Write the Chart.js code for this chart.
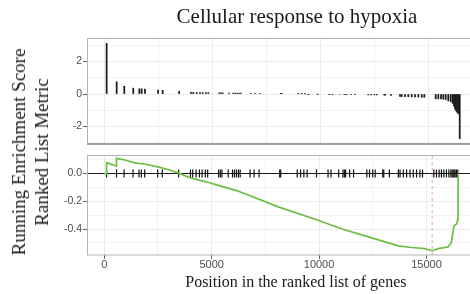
<!DOCTYPE html>
<html>
<head>
<meta charset="utf-8">
<script src="https://cdn.jsdelivr.net/npm/chart.js@4.4.0/dist/chart.umd.min.js"></script>
<style>
  html, body { margin: 0; padding: 0; background: #fff; overflow: hidden; }
  #wrap { position: relative; width: 470px; height: 294px; overflow: hidden; }
  #wrap canvas { position: absolute; left: 0; top: 0; }
  #ytitle {
    position: absolute; left: 30px; top: 152px;
    transform: translate(-50%, -50%) rotate(-90deg);
    font: 19px 'Liberation Serif', serif; line-height: 23px;
    text-align: center; white-space: nowrap; color: #1a1a1a;
  }
</style>
</head>
<body>
<div id="wrap">
  <canvas id="rankChart" width="510" height="294"></canvas>
  <canvas id="esChart" width="510" height="294"></canvas>
  <div id="ytitle">Running Enrichment Score<br>Ranked List Metric</div>
</div>
<script>
// ============================================
// DATA
// ============================================

const chartTitle = 'Cellular response to hypoxia';
const xTitle     = 'Position in the ranked list of genes';

// positions of the gene set members in the ranked list
const hitPositions = [
  110, 574, 926, 1343, 1622, 1730, 1884, 2490, 2703, 3465,
  4014, 4120, 4278, 4431, 4556, 4708, 4815, 5324, 5403, 5481,
  5773, 5972, 6065, 6157, 6250, 6329, 6792, 6977, 7208, 8167,
  8213, 8982, 9139, 9292, 9445, 9880, 10417, 10556, 10912, 11112,
  11177, 11237, 11422, 11607, 12223, 12348, 12500, 12611, 12963, 13010,
  13273, 13690, 13769, 13922, 14075, 14232, 14385, 14537, 14695, 14815,
  15343, 15464, 15589, 15695, 15806, 15926, 16038, 16130, 16190, 16237,
  16283, 16330, 16390, 16455
];
// ranked list metric of each member
const hitMetrics = [
  3.12, 0.75, 0.48, 0.36, 0.32, 0.32, 0.31, 0.24, 0.23, 0.16,
  0.10, 0.10, 0.09, 0.09, 0.09, 0.08, 0.08, 0.07, 0.07, 0.07,
  0.06, 0.06, 0.05, 0.05, 0.05, 0.05, 0.04, 0.04, 0.04, 0.02,
  0.02, 0.01, 0.01, 0.01, -0.01, -0.01, -0.02, -0.02, -0.03, -0.03,
  -0.03, -0.03, -0.04, -0.04, -0.05, -0.05, -0.05, -0.06, -0.07, -0.07,
  -0.08, -0.15, -0.16, -0.16, -0.17, -0.18, -0.18, -0.19, -0.20, -0.20,
  -0.30, -0.30, -0.31, -0.32, -0.34, -0.42, -0.48, -0.58, -0.75, -0.92,
  -1.02, -1.12, -1.22, -2.75
];

// running enrichment score
const esPositions = [
  0, 110, 110, 574, 574, 805, 963, 1343, 1575, 1884,
  2500, 2966, 3427, 3968, 4740, 5510, 6200, 8133, 9985, 11065,
  12145, 12917, 13689, 14306, 14923, 15264, 15541, 16004, 16159, 16210,
  16283, 16400, 16455, 16468, 16468
];
const esScores = [
  0, -0.002, 0.078, 0.053, 0.109, 0.102, 0.097, 0.080, 0.073, 0.068,
  0.048, 0.029, 0.005, -0.030, -0.060, -0.095, -0.125, -0.242, -0.339, -0.400,
  -0.449, -0.485, -0.521, -0.533, -0.541, -0.556, -0.541, -0.529, -0.497, -0.440,
  -0.376, -0.364, -0.330, -0.330, 0
];
const peakPosition = 15264;

// labelled ticks and grid breaks
const posTicks   = [0, 5000, 10000, 15000];
const posGrid    = [0, 2500, 5000, 7500, 10000, 12500, 15000, 17500];
const rankTicks  = [-2, 0, 2];
const rankGrid   = [-3, -2, -1, 0, 1, 2, 3];
const esTicks    = [-0.4, -0.2, 0];
const esGrid     = [-0.5, -0.4, -0.3, -0.2, -0.1, 0, 0.1];

// axis limits
const xMin = -800, xMax = 18644;
const rankMin = -3.08, rankMax = 3.45;
const esMin = -0.587, esMax = 0.133;

// ============================================
// STYLE HELPERS
// ============================================

const GRID   = '#ebebeb';
const TICKC  = '#666';
const LABELC = '#4d4d4d';
const sans   = "'Liberation Sans', Arial, sans-serif";
const serif  = "'Liberation Serif', serif";

const isMajor = (list, v) => list.some(t => Math.abs(t - v) < 1e-9);
const tickVal = c => (c && c.tick) ? c.tick.value : NaN;
const useTicks = list => sc => { sc.ticks = list.map(v => ({ value: v })); };

const panelFrame = {
  id: 'panelFrame',
  afterDraw(chart, args, opts) {
    const { ctx, chartArea: a } = chart;
    ctx.save();
    ctx.strokeStyle = '#b3b3b3';
    ctx.lineWidth = 1;
    ctx.beginPath();
    ctx.moveTo(Math.round(a.left) + 0.5, a.bottom);
    ctx.lineTo(Math.round(a.left) + 0.5, Math.round(a.top) + 0.5);
    ctx.lineTo(a.right, Math.round(a.top) + 0.5);
    ctx.stroke();
    ctx.strokeStyle = opts.bottomColor;
    ctx.lineWidth = opts.bottomWidth;
    ctx.beginPath();
    ctx.moveTo(a.left, a.bottom);
    ctx.lineTo(a.right, a.bottom);
    ctx.stroke();
    ctx.restore();
  }
};

function xScale(showLabels) {
  const s = {
    type: 'linear', min: xMin, max: xMax, offset: false,
    border: { display: false },
    afterBuildTicks: useTicks(posGrid),
    grid: {
      offset: false, color: GRID,
      lineWidth: c => isMajor(posTicks, tickVal(c)) ? 1 : 0.6,
      drawTicks: showLabels, tickLength: 4,
      tickColor: c => isMajor(posTicks, tickVal(c)) ? TICKC : 'rgba(0,0,0,0)'
    },
    ticks: {
      display: showLabels, autoSkip: false, maxRotation: 0, minRotation: 0, padding: -1,
      color: LABELC, font: { family: sans, size: 11 },
      callback: v => isMajor(posTicks, v) ? String(v) : ''
    },
    title: {
      display: showLabels, text: xTitle, color: '#1a1a1a',
      font: { family: serif, size: 16 },
      padding: { top: 3, bottom: 1.6 }
    }
  };
  if (!showLabels) s.afterFit = sc => { sc.height = 0; };
  return s;
}

function yScale(min, max, grid, majors, fmt, zeroLine) {
  const isZero = c => zeroLine && Math.abs(tickVal(c)) < 1e-9;
  return {
    type: 'linear', min, max,
    border: { display: false },
    afterBuildTicks: useTicks(grid),
    grid: {
      color: c => isZero(c) ? '#1a1a1a' : GRID,
      lineWidth: c => (isMajor(majors, tickVal(c)) || isZero(c)) ? 1 : 0.6,
      tickLength: 4,
      tickColor: c => isMajor(majors, tickVal(c)) ? TICKC : 'rgba(0,0,0,0)'
    },
    ticks: {
      autoSkip: false, padding: 1,
      color: LABELC, font: { family: sans, size: 10.5 },
      callback: v => isMajor(majors, v) ? fmt(v) : ''
    },
    afterFit: sc => { sc.width = 87; }
  };
}

// ============================================
// TOP PANEL - RANKED LIST METRIC
// ============================================

new Chart(document.getElementById('rankChart'), {
  type: 'bar',
  data: {
    datasets: [{
      data: hitPositions.map((p, i) => ({ x: p, y: hitMetrics[i] })),
      backgroundColor: '#1a1a1a',
      barThickness: 1.1,
      grouped: false
    }]
  },
  options: {
    responsive: false, animation: false,
    layout: { padding: { top: 0, left: 0, right: 3, bottom: 150 } },
    plugins: {
      legend: { display: false },
      tooltip: { enabled: false },
      title: {
        display: true, text: chartTitle, fullSize: false,
        color: '#1a1a1a',
        font: { family: serif, size: 21, weight: 'normal' },
        padding: { top: 5, bottom: 7.8 }
      },
      panelFrame: { bottomColor: '#a0a0a0', bottomWidth: 2 }
    },
    scales: {
      x: xScale(false),
      y: yScale(rankMin, rankMax, rankGrid, rankTicks, v => String(v), false)
    }
  },
  plugins: [panelFrame]
});

// ============================================
// BOTTOM PANEL - RUNNING ENRICHMENT SCORE
// ============================================

new Chart(document.getElementById('esChart'), {
  type: 'scatter',
  data: {
    datasets: [
      {
        type: 'line', label: 'ES',
        data: esPositions.map((p, i) => ({ x: p, y: esScores[i] })),
        borderColor: '#6cbf45', borderWidth: 1.7,
        pointRadius: 0, tension: 0
      },
      {
        type: 'scatter', label: 'hits',
        data: hitPositions.map(p => ({ x: p, y: 0 })),
        pointStyle: 'line', rotation: 90, radius: 4,
        borderColor: '#111', borderWidth: 1.2
      },
      {
        type: 'line', label: 'peak',
        data: [{ x: peakPosition, y: esMin }, { x: peakPosition, y: esMax }],
        borderColor: '#f2a0a0', borderWidth: 1, borderDash: [3, 3],
        pointRadius: 0
      }
    ]
  },
  options: {
    responsive: false, animation: false,
    layout: { padding: { top: 155, left: 0, right: 3, bottom: 0 } },
    plugins: {
      legend: { display: false },
      tooltip: { enabled: false },
      panelFrame: { bottomColor: '#b3b3b3', bottomWidth: 1 }
    },
    scales: {
      x: xScale(true),
      y: yScale(esMin, esMax, esGrid, esTicks, v => v.toFixed(1).replace('-0.0', '0.0'), true)
    }
  },
  plugins: [panelFrame]
});
</script>
</body>
</html>
